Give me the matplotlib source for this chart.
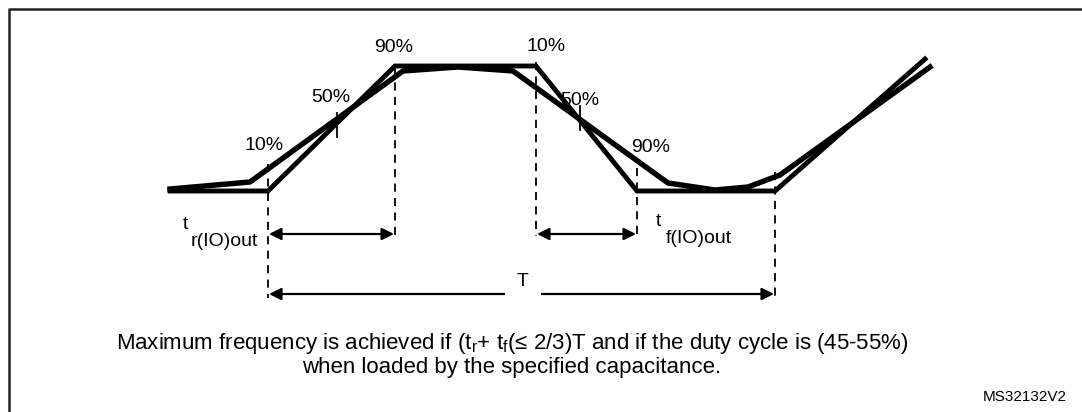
import matplotlib
matplotlib.use("Agg")
import matplotlib.pyplot as plt

plt.rcParams['font.family'] = ['Liberation Sans', 'DejaVu Sans']
plt.rcParams['mathtext.default'] = 'regular'

# waveforms in picture coordinates (x right, y down)
ideal_x = [170, 268, 395, 536, 637, 775, 925]
ideal_y = [191, 191, 66, 66, 191, 191, 59]
real_x = [170, 250, 403, 458, 513, 668, 715, 748, 780, 930]
real_y = [189, 182, 71, 67, 71, 183, 190, 187, 175, 67]

# timing marks: dashed verticals
mark_x = [268, 395, 536, 637, 775]
mark_top = [164, 68, 62, 168, 172]
mark_bottom = [298, 236, 236, 236, 298]

# 50% ticks
tick_x = [337, 580]
tick_top = [113, 106]
tick_bottom = [137, 130]

# level labels
level_labels = ["90%", "50%", "10%", "10%", "50%", "90%"]
level_x = [394, 331, 264, 546, 580, 651]
level_y = [47, 97, 145, 46, 100, 147]

note_lines = ["Maximum frequency is achieved if (t$_{r}$+ t$_{f}$(\u2264 2/3)T and if the duty cycle is (45-55%)",
              "when loaded by the specified capacitance."]

fig = plt.figure(figsize=(10.82, 4.12), dpi=100)
ax = fig.add_axes([0, 0, 1, 1])
ax.set_xlim(0, 1082)
ax.set_ylim(412, 0)
ax.axis('off')

# frame
ax.plot([8.5, 8.5, 1082], [412, 8.5, 8.5], color='#222222', lw=1.8, solid_capstyle='butt')

ax.plot(ideal_x, ideal_y, color='black', lw=3.5, solid_joinstyle='miter')
ax.plot(real_x, real_y, color='black', lw=3.9, solid_joinstyle='round')

for x, t, b in zip(mark_x, mark_top, mark_bottom):
    ax.plot([x, x], [t, b], color='black', lw=1.3, dashes=(4.5, 3.5))
for x, t, b in zip(tick_x, tick_top, tick_bottom):
    ax.plot([x, x], [t, b], color='black', lw=1.3)

for s, x, y in zip(level_labels, level_x, level_y):
    ax.text(x, y, s, fontsize=14, ha='center', va='center')

arrow = dict(arrowstyle='<|-|>', color='black', lw=1.6, mutation_scale=18,
             shrinkA=0, shrinkB=0)
ax.annotate('', xy=(mark_x[0] + 1, 234), xytext=(mark_x[1] - 1, 234), arrowprops=arrow)
ax.annotate('', xy=(mark_x[2] + 1, 234), xytext=(mark_x[3] - 1, 234), arrowprops=arrow)
ax.annotate('', xy=(mark_x[0] + 1, 294), xytext=(mark_x[4] - 1, 294), arrowprops=arrow)
ax.text(523, 281, 'T', fontsize=14, ha='center', va='center',
        bbox=dict(facecolor='white', edgecolor='none', pad=9))

# rise / fall time labels
ax.text(185, 224, 't', fontsize=14, ha='center', va='center')
ax.text(224, 241, 'r(IO)out', fontsize=14, ha='center', va='center')
ax.text(658, 221, 't', fontsize=14, ha='center', va='center')
ax.text(699, 238, 'f(IO)out', fontsize=14, ha='center', va='center')

ax.text(512, 344, note_lines[0], fontsize=16, ha='center', va='center')
ax.text(512, 368, note_lines[1], fontsize=16, ha='center', va='center')
ax.text(1067, 397, 'MS32132V2', fontsize=11, ha='right', va='center')

fig.savefig('out.png', dpi=100)
